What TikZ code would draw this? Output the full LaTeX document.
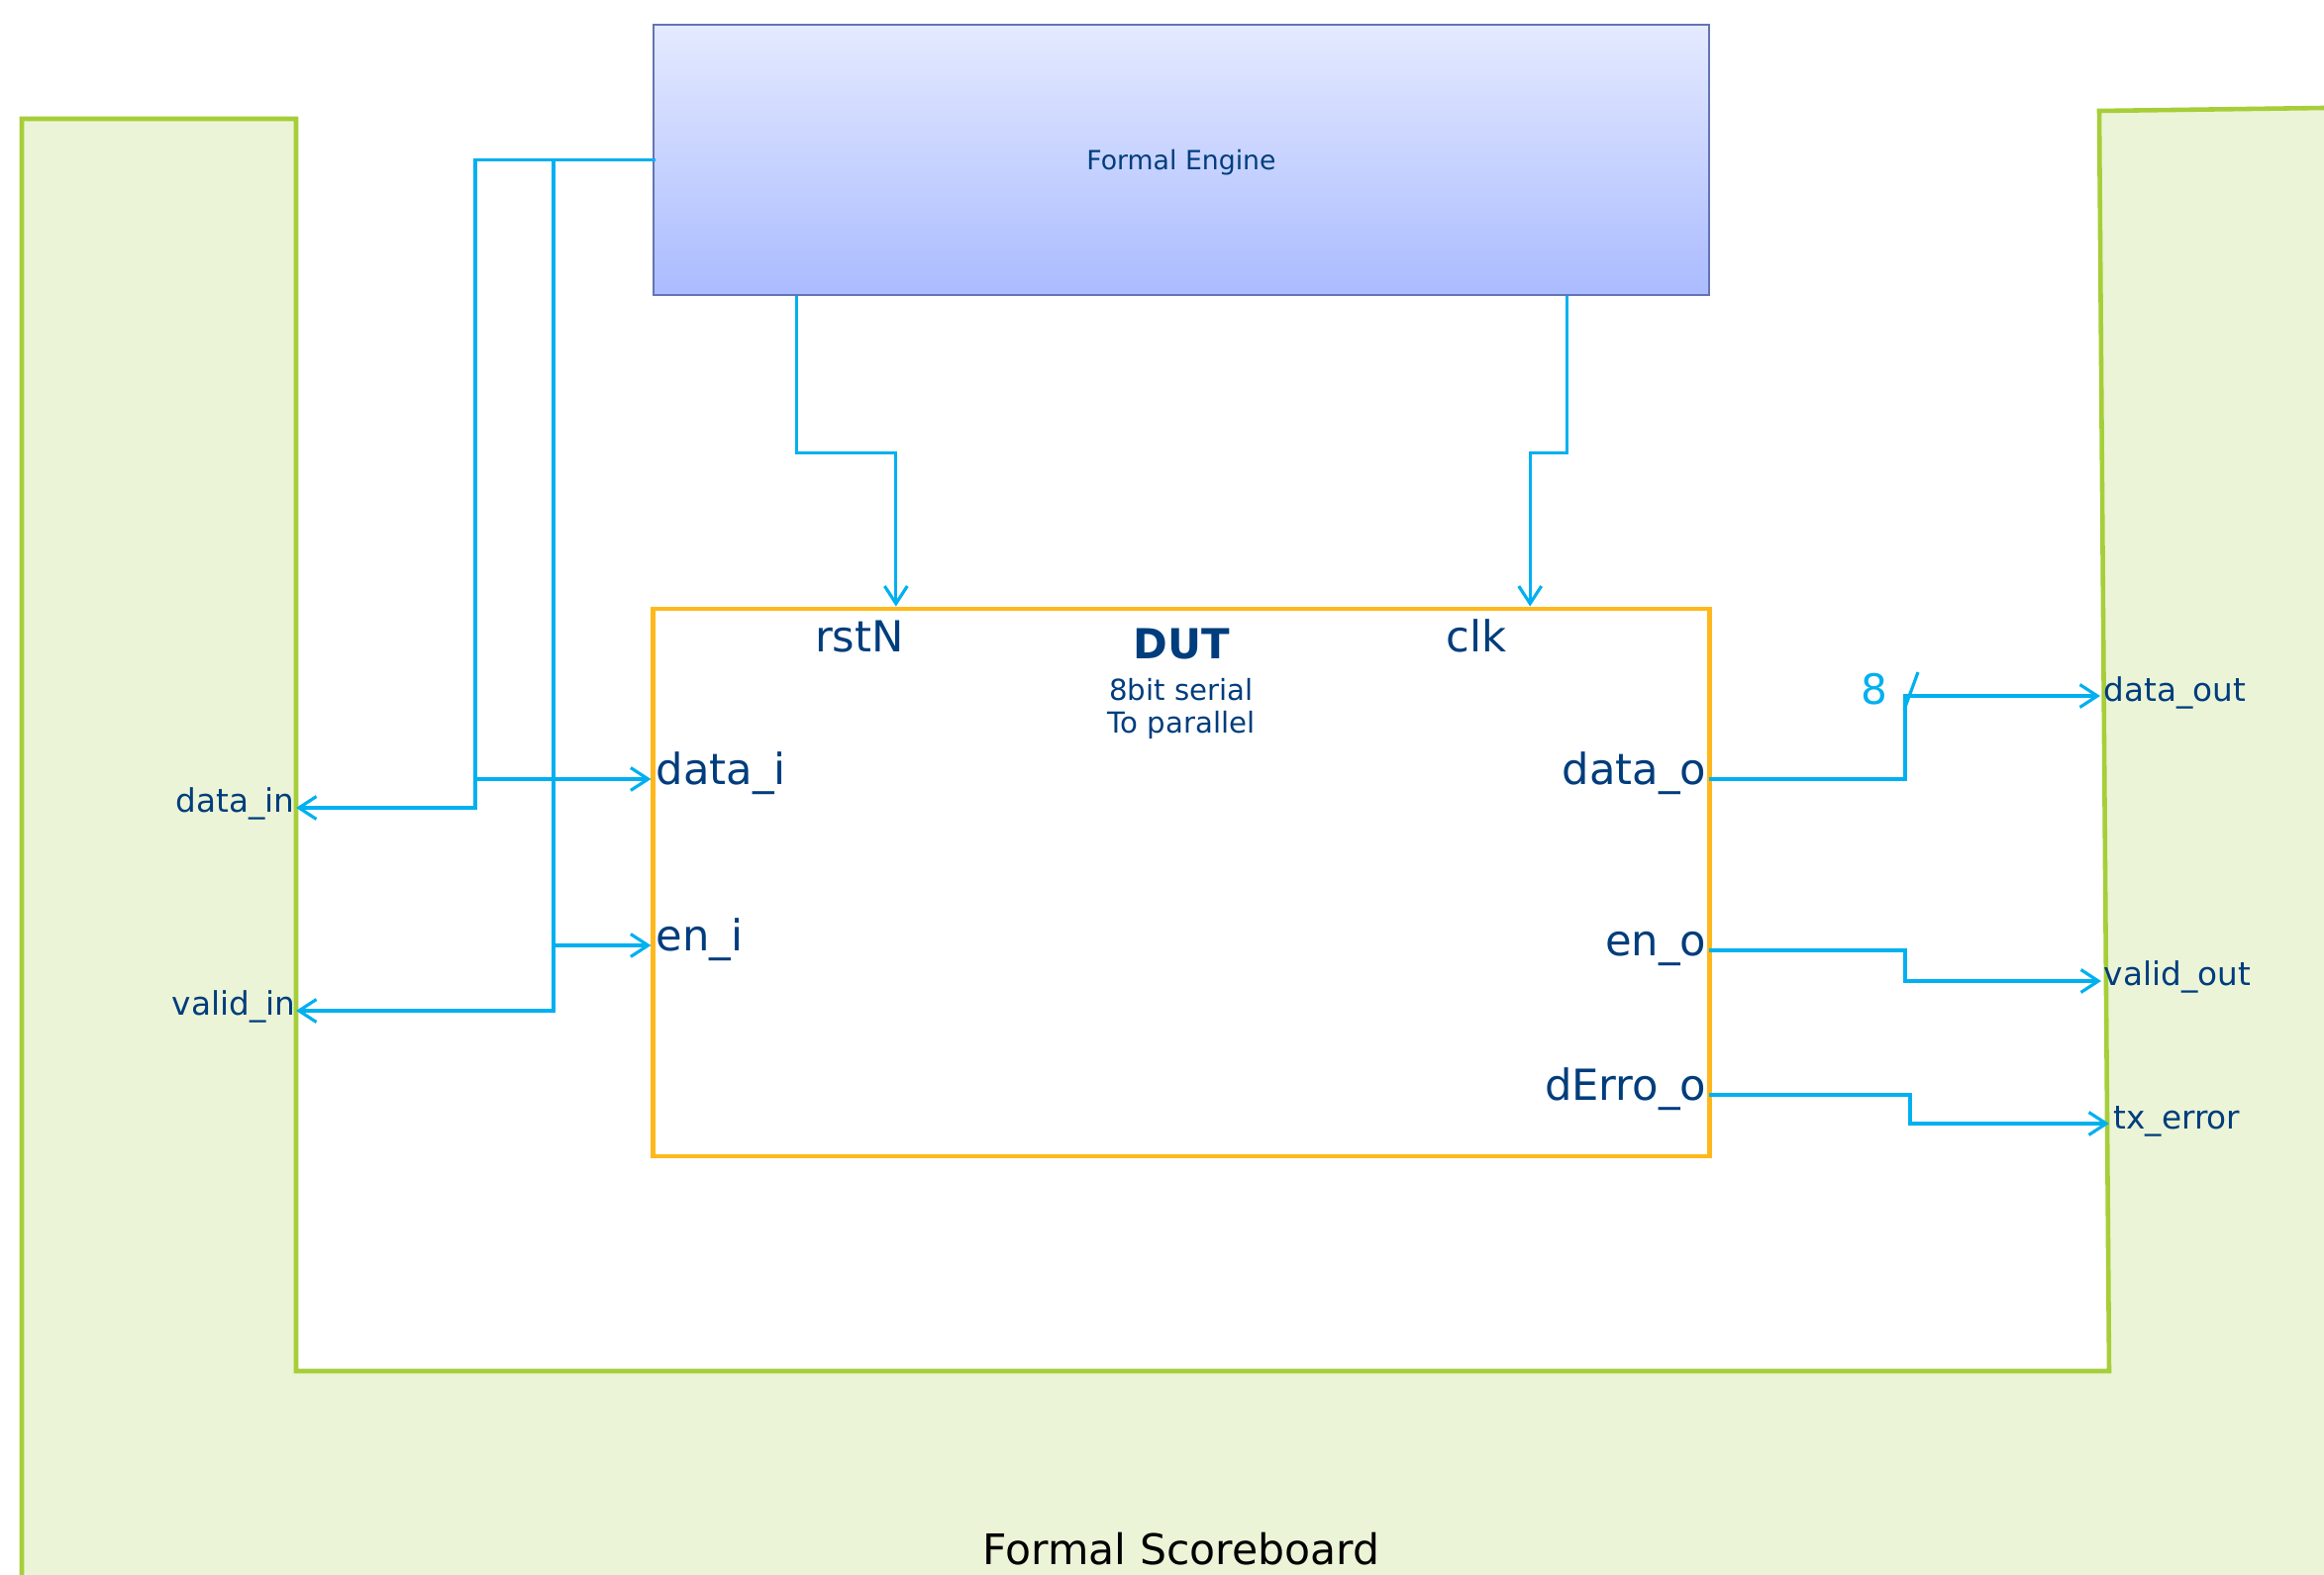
\documentclass[tikz,border=0pt]{standalone}
\usepackage{fontspec}
\setmainfont{DejaVu Sans}
\usetikzlibrary{arrows.meta,positioning}

\definecolor{wirecol}{RGB}{0,176,240}
\definecolor{dutcol}{RGB}{255,184,28}
\definecolor{sbline}{RGB}{166,206,57}
\definecolor{sbfill}{RGB}{235,244,214}
\definecolor{txtblue}{RGB}{0,61,125}
\definecolor{fetop}{RGB}{228,234,255}
\definecolor{febot}{RGB}{170,187,255}
\definecolor{feline}{RGB}{100,116,180}

\begin{document}
\begin{tikzpicture}[x=0.01cm,y=-0.01cm,>={Straight Barb[length=5pt,width=6.5pt]},
    wire/.style={draw=wirecol,line width=0.9pt},
    port/.style={text=txtblue,inner sep=0pt,font=\fontsize{12.3}{14}\selectfont},
    sig/.style={text=txtblue,inner sep=0pt,font=\fontsize{9.3}{11}\selectfont},
    desc/.style={text=txtblue,inner sep=0pt,font=\fontsize{8.3}{10}\selectfont},
    box/.style={draw,rectangle,inner sep=0pt,minimum width=10.66cm}]
  \useasboundingbox (0,0) rectangle (2347,1591);

  % scoreboard
  \fill[sbfill] (22,120) -- (299,120) -- (299,1385) -- (2130,1385) -- (2120,112)
    -- (2347,109) -- (2347,1591) -- (22,1591) -- cycle;
  \draw[sbline,line width=1.3pt] (22,1591) -- (22,120) -- (299,120) -- (299,1385)
    -- (2130,1385) -- (2120,112) -- (2347,109);
  \node[anchor=base,inner sep=0pt,font=\fontsize{12.1}{14}\selectfont] (sb) at (1193,1580) {Formal Scoreboard};

  \node[sig,anchor=base east] (datain) at (298,820) {data\_in};
  \node[sig,anchor=base east] (validin) at (299,1025) {valid\_in};
  \node[sig,anchor=base west] (dataout) at (2124,708) {data\_out};
  \node[sig,anchor=base west] (validout) at (2124,995) {valid\_out};
  \node[sig,anchor=base west] (txerr) at (2134,1140) {tx\_error};

  % engine and dut
  \node[box,draw=feline,line width=0.6pt,minimum height=2.73cm,top color=fetop,bottom color=febot] (fe) at (1193,161.5) {};
  \node[text=txtblue,inner sep=0pt,anchor=base,font=\fontsize{7.6}{9}\selectfont] (fename) at ([yshift=-0.1cm]fe.center) {Formal Engine};
  \node[box,draw=dutcol,line width=1.3pt,minimum height=5.53cm] (dut) at (1193,891.5) {};

  \node[text=txtblue,inner sep=0pt,anchor=base,font=\bfseries\fontsize{11.9}{14}\selectfont] (dutname) at (1193,666) {DUT};
  \node[desc,anchor=base] (dutdesc) at (1193,707) {8bit serial};
  \node[desc,anchor=base] (dutdesc2) at (1193,740) {To parallel};

  \node[port,anchor=base west] (datai) at (662,792) {data\_i};
  \node[port,anchor=base west] (eni) at (662,960) {en\_i};
  \node[port,anchor=base] (rstn) at (868,659) {rstN};
  \node[port,anchor=base] (clk) at (1491,659) {clk};
  \node[port,anchor=base east] (datao) at (1724,792) {data\_o};
  \node[port,anchor=base east] (eno) at (1724,965) {en\_o};
  \node[port,anchor=base east] (derro) at (1724,1111) {dErro\_o};

  % pins
  \coordinate (jd) at (480,787);
  \coordinate (je) at (559,955);
  \coordinate (sdi) at (299,816);
  \coordinate (svi) at (299,1021);
  \coordinate (pdo) at (1726,787);
  \coordinate (peo) at (1726,960);
  \coordinate (pde) at (1726,1106);
  \coordinate (sdo) at (2121,703);
  \coordinate (svo) at (2122,991);
  \coordinate (stx) at (2130,1135);

  % inputs
  \draw[wire] ([xshift=1pt]fe.west) -| (jd);
  \draw[wire,->] (jd) -- (dut.west |- jd);
  \draw[wire,->] (jd) |- (sdi);
  \draw[wire] ([xshift=1pt]fe.west) -| (je);
  \draw[wire,->] (je) -- (dut.west |- je);
  \draw[wire,->] (je) |- (svi);
  \draw[wire,->] ([xshift=-3.88cm]fe.south) -- ++(0,158) -| ([xshift=-2.88cm]dut.north);
  \draw[wire,->] ([xshift=3.89cm]fe.south) -- ++(0,158) -| ([xshift=3.52cm]dut.north);

  % outputs
  \draw[wire,->] (pdo) -- ++(198,0) |- (sdo);
  \draw[wire,->] (peo) -- ++(198,0) |- (svo);
  \draw[wire,->] (pde) -- ++(203,0) |- (stx);
  \draw[wire] (1923,717) -- (1937,679);
  \node[text=wirecol,inner sep=0pt,anchor=base,font=\fontsize{12}{14}\selectfont] (bus) at (1893,711) {8};
\end{tikzpicture}
\end{document}
